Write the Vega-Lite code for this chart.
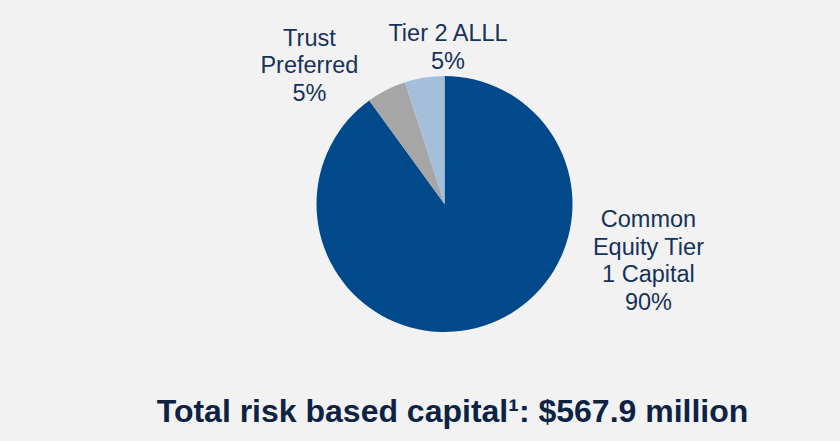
{
  "$schema": "https://vega.github.io/schema/vega-lite/v6.json",
  "width": 791,
  "height": 408,
  "autosize": {"type": "none"},
  "padding": {"left": 49, "top": 0, "right": 0, "bottom": 33},
  "background": "#f2f2f2",
  "view": {"stroke": null},
  "title": {
    "text": "Total risk based capital¹: $567.9 million",
    "orient": "bottom",
    "anchor": "middle",
    "frame": "group",
    "fontSize": 32,
    "fontWeight": "bold",
    "font": "Liberation Sans",
    "color": "#0d2344",
    "baseline": "alphabetic",
    "offset": 14,
    "dx": 8
  },
  "data": {
    "values": [
      {"category": "Common Equity Tier 1 Capital", "value": 90, "order": 1, "label": ["Common", "Equity Tier", "1 Capital", "90%"]},
      {"category": "Trust Preferred", "value": 5, "order": 2, "label": ["Trust", "Preferred", "5%"]},
      {"category": "Tier 2 ALLL", "value": 5, "order": 3, "label": ["Tier 2 ALLL", "5%"]}
    ]
  },
  "encoding": {
    "theta": {"field": "value", "type": "quantitative", "stack": true},
    "order": {"field": "order", "type": "quantitative"}
  },
  "layer": [
    {
      "mark": {"type": "arc", "outerRadius": 128, "stroke": null},
      "encoding": {
        "color": {
          "field": "category",
          "type": "nominal",
          "scale": {
            "domain": ["Common Equity Tier 1 Capital", "Trust Preferred", "Tier 2 ALLL"],
            "range": ["#004a8b", "#a6a6a6", "#a5bfda"]
          },
          "legend": null
        }
      }
    },
    {
      "mark": {
        "type": "text",
        "radius": 150,
        "fontSize": 23.5,
        "font": "Liberation Sans",
        "lineHeight": 27.5,
        "color": "#17325a",
        "align": "center",
        "baseline": "middle",
        "dx": {"expr": "datum.category == 'Trust Preferred' ? -67 : datum.category == 'Tier 2 ALLL' ? 27 : 157.6"},
        "dy": {"expr": "datum.category == 'Trust Preferred' ? -31.5 : datum.category == 'Tier 2 ALLL' ? -21.5 : -126.5"}
      },
      "encoding": {
        "text": {"field": "label", "type": "nominal"}
      }
    }
  ]
}
